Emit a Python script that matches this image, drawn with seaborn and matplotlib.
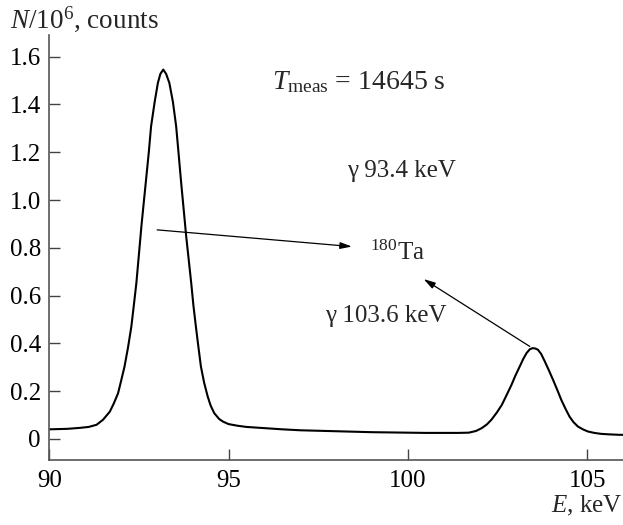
import matplotlib
matplotlib.use("Agg")
import matplotlib.pyplot as plt
import seaborn as sns
import pandas as pd

# spectrum (E in keV, N in 10^6 counts)
energy = [90.0, 90.5, 90.85, 91.1, 91.32, 91.5, 91.69, 91.8, 91.92, 92.0, 92.1, 92.2,
          92.29, 92.36, 92.43, 92.5, 92.57, 92.64, 92.71, 92.78, 92.84, 92.94, 93.03,
          93.1, 93.18, 93.26, 93.35, 93.45, 93.54, 93.61, 93.68, 93.75, 93.82, 93.89,
          93.96, 94.02, 94.09, 94.16, 94.23, 94.32, 94.42, 94.5, 94.6, 94.74, 94.85,
          95.0, 95.25, 95.5, 96.0, 96.5, 97.0, 97.5, 98.0, 98.5, 99.0, 99.5, 100.0,
          100.5, 101.0, 101.4, 101.7, 101.9, 102.06, 102.2, 102.33, 102.48, 102.62,
          102.75, 102.89, 103.0, 103.12, 103.22, 103.31, 103.4, 103.48, 103.56, 103.63,
          103.72, 103.82, 103.93, 104.05, 104.17, 104.28, 104.4, 104.51, 104.62, 104.74,
          104.88, 105.02, 105.2, 105.39, 105.6, 105.9, 106.0]
counts = [0.040, 0.042, 0.046, 0.050, 0.059, 0.080, 0.114, 0.148, 0.191, 0.240, 0.303,
          0.385, 0.470, 0.560, 0.652, 0.770, 0.889, 0.995, 1.099, 1.205, 1.308, 1.410,
          1.490, 1.528, 1.546, 1.528, 1.490, 1.410, 1.308, 1.190, 1.071, 0.960, 0.847,
          0.750, 0.652, 0.560, 0.470, 0.385, 0.303, 0.235, 0.177, 0.140, 0.108, 0.083,
          0.072, 0.062, 0.055, 0.050, 0.045, 0.040, 0.036, 0.034, 0.032, 0.030, 0.028,
          0.027, 0.026, 0.025, 0.025, 0.025, 0.026, 0.033, 0.045, 0.060, 0.080, 0.110,
          0.142, 0.182, 0.226, 0.265, 0.303, 0.335, 0.359, 0.375, 0.380, 0.378, 0.373,
          0.355, 0.324, 0.288, 0.247, 0.204, 0.163, 0.125, 0.093, 0.070, 0.052, 0.040,
          0.031, 0.025, 0.021, 0.019, 0.017, 0.017]

x_ticks = [90, 95, 100, 105]
y_ticks = [0, 0.2, 0.4, 0.6, 0.8, 1.0, 1.2, 1.4, 1.6]
y_tick_labels = ["0", "0.2", "0.4", "0.6", "0.8", "1.0", "1.2", "1.4", "1.6"]

df = pd.DataFrame({"E": energy, "N": counts})

sns.set_style("ticks")
plt.rcParams["font.family"] = ["Liberation Serif", "DejaVu Serif"]
plt.rcParams["mathtext.fontset"] = "custom"
plt.rcParams["mathtext.rm"] = "Liberation Serif"
plt.rcParams["mathtext.it"] = "Liberation Serif:italic"

fs = 18

fig = plt.figure(figsize=(6.23, 5.25), dpi=100)
ax = fig.add_axes([0.079, 0.124, 0.921, 0.809])

sns.lineplot(data=df, x="E", y="N", color="black", linewidth=1.5, ax=ax)

ax.set_xlim(90, 106)
ax.set_ylim(-0.088, 1.69)
ax.set_xticks(x_ticks)
ax.set_yticks(y_ticks)
ax.set_yticklabels(y_tick_labels)
ax.tick_params(direction="in", length=8, width=1, colors="#444444",
               labelcolor="black", labelsize=fs)
ax.tick_params(axis="x", pad=7)
ax.tick_params(axis="y", pad=6)
sns.despine(ax=ax)
for side in ["left", "bottom"]:
    ax.spines[side].set_color("#555555")
    ax.spines[side].set_linewidth(1.2)
ax.set_xlabel("")
ax.set_ylabel("")

fig.text(10 / 623, 1 - 19 / 525, r"$N$/10$^6$, counts", fontsize=19.5,
         ha="left", va="center")
fig.text(622 / 623, 1 - 506 / 525, r"$E$, keV", fontsize=fs,
         ha="right", va="center")

# annotations
ax.text(96.2, 1.495, r"$T_{\rm meas}$ = 14645 s", fontsize=20, va="center")
ax.text(98.3, 1.12, "γ 93.4 keV", fontsize=fs, va="center")
ax.text(98.95, 0.78, r"$^{180}$Ta", fontsize=fs, va="center")
ax.text(97.7, 0.515, "γ 103.6 keV", fontsize=fs, va="center")

arrow = dict(arrowstyle="-|>,head_length=0.7,head_width=0.2", color="black",
             lw=0.9, shrinkA=0, shrinkB=0)
ax.annotate("", xy=(98.44, 0.805), xytext=(93.01, 0.875), arrowprops=arrow)
ax.annotate("", xy=(100.44, 0.669), xytext=(103.40, 0.387), arrowprops=arrow)

fig.savefig("out.png", dpi=100)
